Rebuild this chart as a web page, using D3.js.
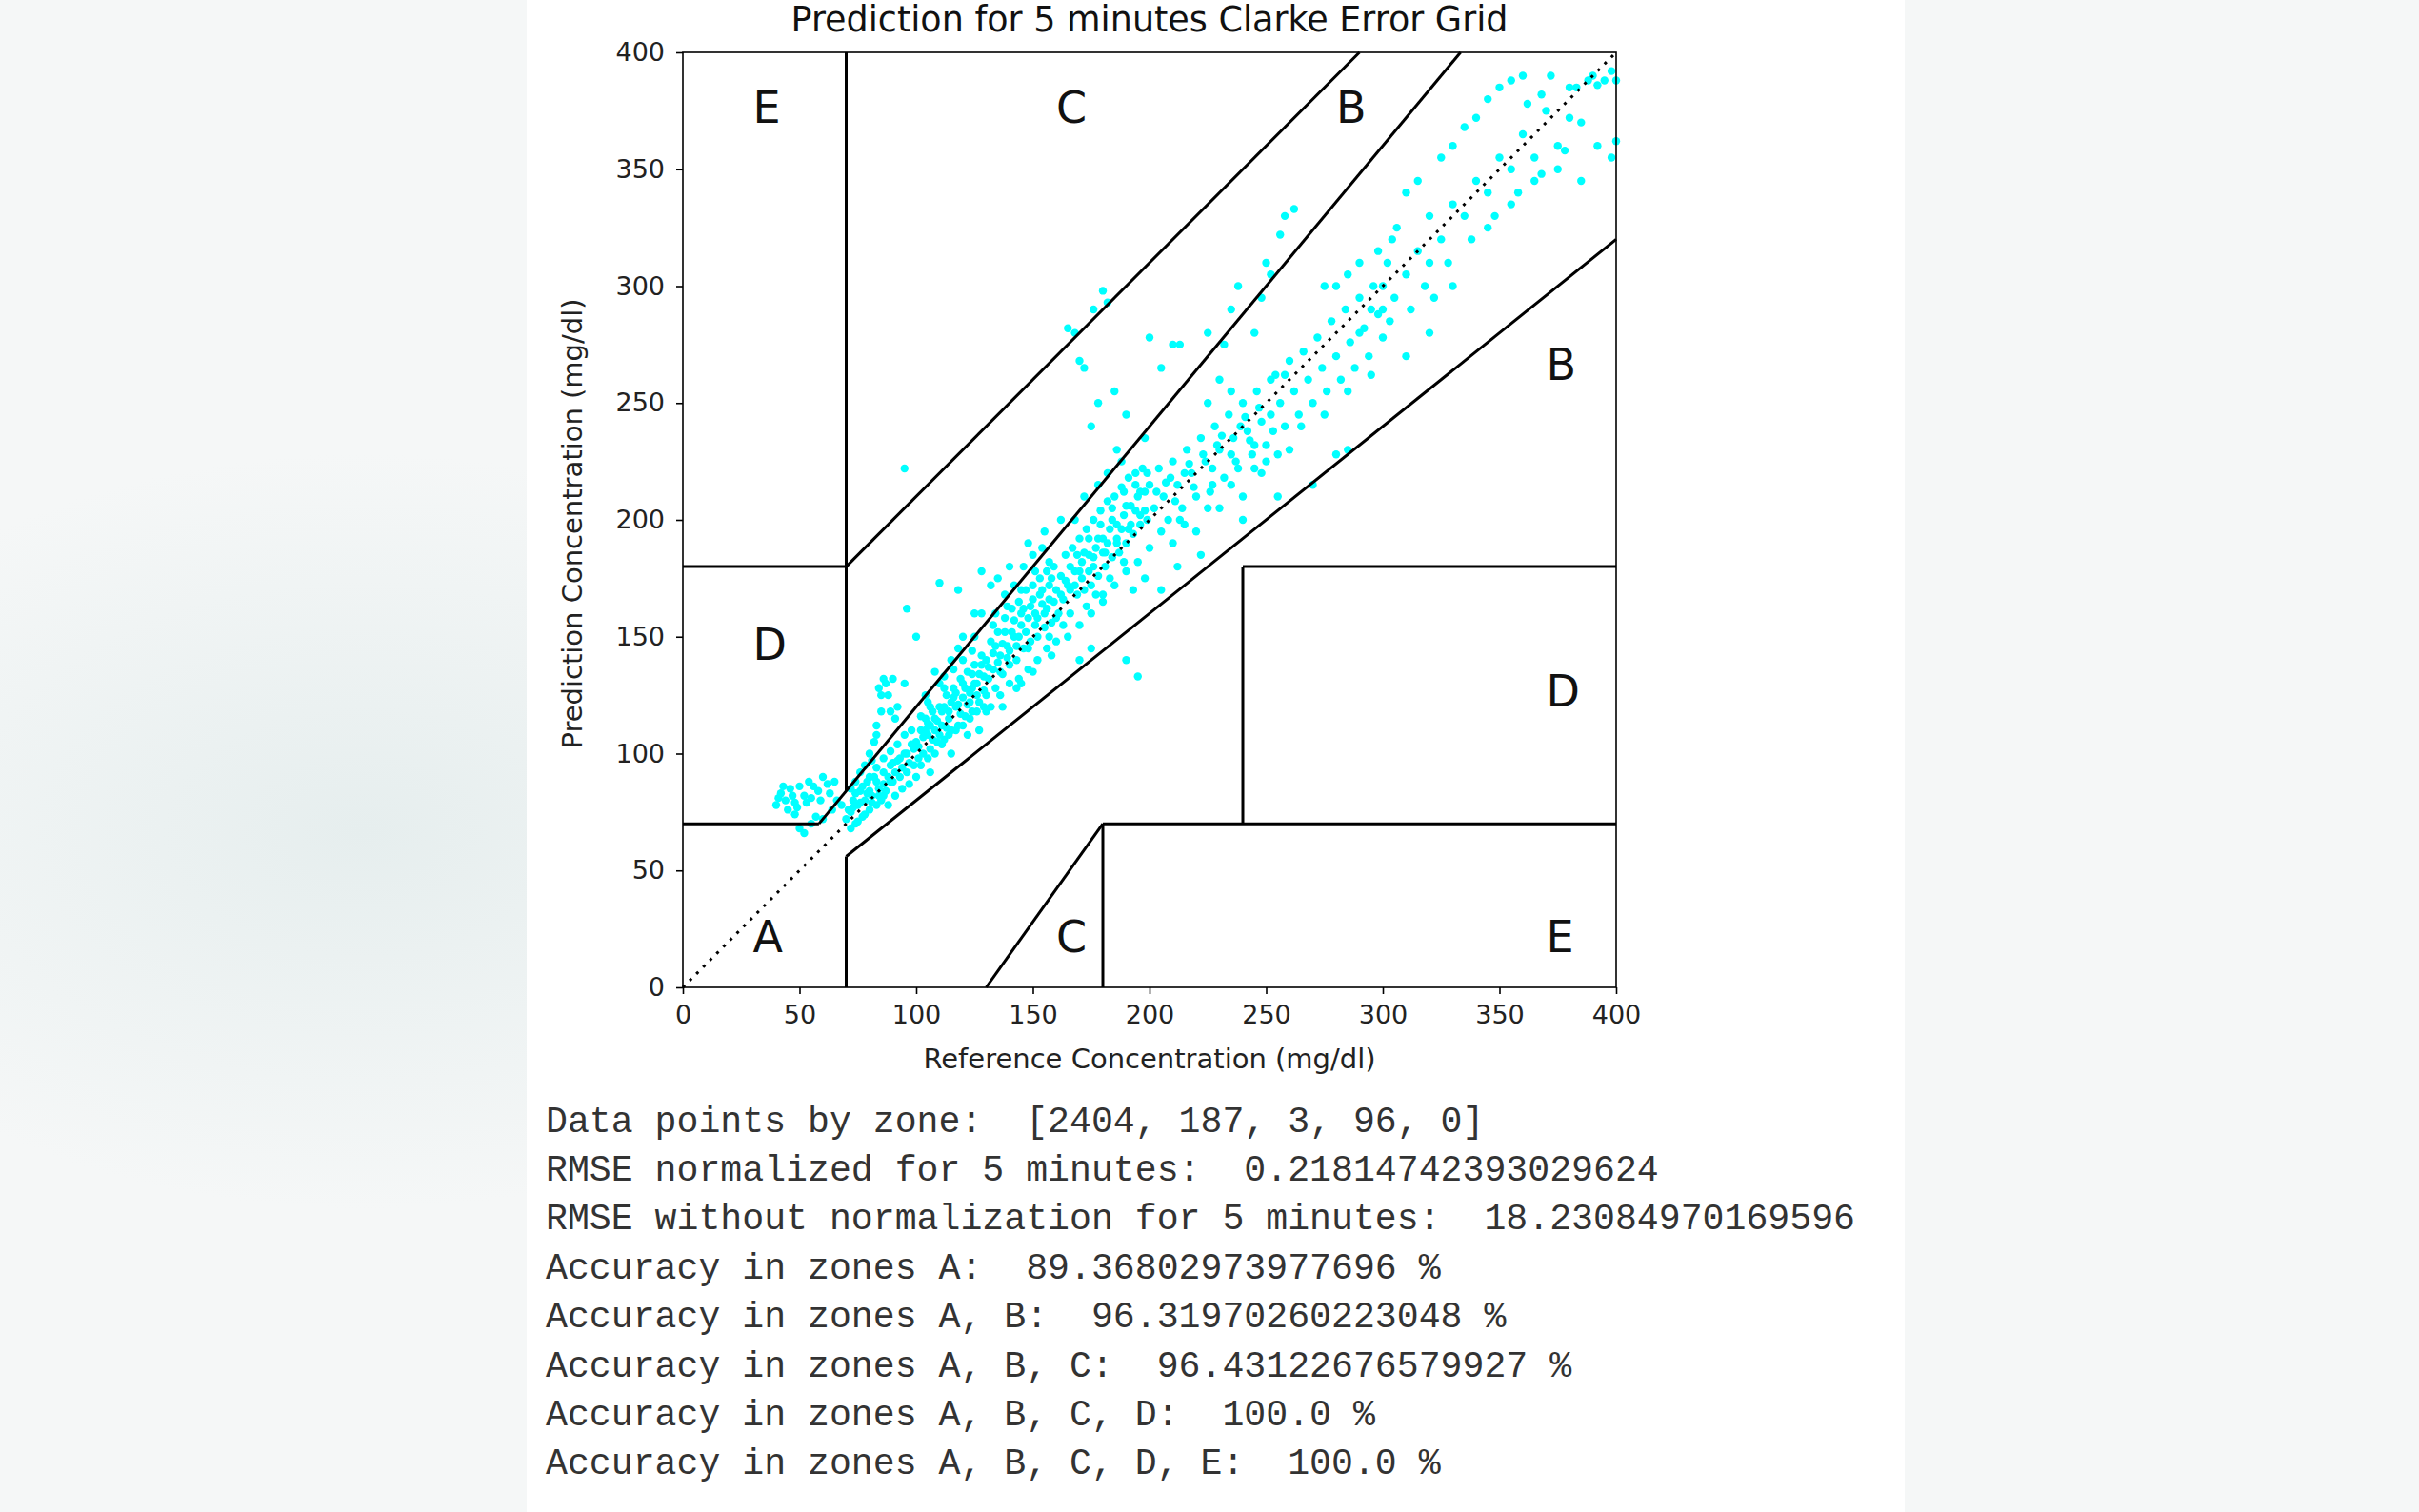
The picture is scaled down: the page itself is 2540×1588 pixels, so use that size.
<!DOCTYPE html>
<html><head><meta charset="utf-8">
<script src="https://cdn.jsdelivr.net/npm/d3@7"></script>
<style>body{margin:0;background:#f3f6f6;}svg{display:block}</style></head>
<body><svg id="c" width="2540" height="1588"></svg>
<script>
const title = "Prediction for 5 minutes Clarke Error Grid";
const xLabel = "Reference Concentration (mg/dl)";
const yLabel = "Prediction Concentration (mg/dl)";
const ticks = [0,50,100,150,200,250,300,350,400];
const zoneLines = [
 [[0,175/3],[70,70]],[[175/3,400/1.2],[70,400]],[[70,70],[84,400]],[[0,70],[180,180]],
 [[70,290],[180,400]],[[70,70],[0,56]],[[70,400],[56,320]],[[180,180],[0,70]],
 [[180,400],[70,70]],[[240,240],[70,180]],[[240,400],[180,180]],[[130,180],[0,70]]];
const zoneLabels = [["A",30,15],["B",370,260],["B",280,370],["C",160,370],["C",160,15],["D",30,140],["D",370,120],["E",30,370],["E",370,15]];
const outputLines = [
 "Data points by zone:  [2404, 187, 3, 96, 0]",
 "RMSE normalized for 5 minutes:  0.21814742393029624",
 "RMSE without normalization for 5 minutes:  18.23084970169596",
 "Accuracy in zones A:  89.36802973977696 %",
 "Accuracy in zones A, B:  96.31970260223048 %",
 "Accuracy in zones A, B, C:  96.43122676579927 %",
 "Accuracy in zones A, B, C, D:  100.0 %",
 "Accuracy in zones A, B, C, D, E:  100.0 %"];
const points = [
[40,78],[42,83],[44,80],[46,85],[48,79],[50,86],[52,82],[54,88],[45,76],[55,81],[58,84],[60,90],[62,87],[48,74],[50,68],[52,66],[55,70],[57,73],[60,72],[64,76],[66,80],[68,78],[41,81],[43,86],[47,82],[49,77],[53,79],[56,86],[59,80],[63,83],[65,88],
[70,72],[72,75],[73,80],[74,70],[75,78],[76,84],[77,73],[78,80],[79,88],[80,76],[81,82],[82,90],[83,78],[84,85],[85,80],[86,92],[87,84],[88,78],[89,95],[90,88],[91,82],[92,97],[93,90],[94,85],[95,100],[96,92],[97,87],[98,104],[99,95],[100,90],[72,68],[75,71],[78,74],[80,84],[83,88],[86,82],[88,90],[90,96],[93,98],[96,100],[99,102],[84,128],[86,132],[88,125],[90,132],[92,120],[85,118],[83,112],[95,130],[80,100],[82,105],[78,95],[76,92],[74,88],[72,85],
[71,76],[73,77],[76,79],[79,83],[81,79],[84,82],[86,87],[89,88],[91,92],[94,94],[97,96],[74,83],[77,86],[80,90],[83,94],[86,98],[89,101],[92,104],[95,108],[98,110],[85,125],[87,130],[89,118],[91,115],[83,108],[81,97],
[100,105],[101,98],[102,110],[103,100],[104,115],[105,108],[106,102],[107,118],[108,110],[109,105],[110,120],[111,112],[112,106],[113,125],[114,115],[115,110],[116,128],[117,120],[118,112],[119,132],[120,124],[121,116],[122,135],[123,126],[124,118],[125,138],[126,130],[127,122],[128,142],[129,133],[130,125],[102,95],[105,98],[108,100],[111,104],[114,108],[117,110],[120,112],[123,115],[126,118],[129,120],[110,130],[115,140],[120,150],[125,150],[118,145],[128,160],[105,122],[112,128],[96,162],[100,150],[108,135],[115,100],[122,108],[127,110],[130,118],[104,125],[106,92],
[101,103],[103,107],[105,113],[107,106],[109,114],[111,118],[113,111],[115,122],[117,126],[119,117],[121,128],[123,122],[125,130],[127,134],[129,127],[104,110],[108,115],[112,120],[116,124],[120,130],[124,134],[128,138],[106,112],[114,118],[122,121],[126,125],[110,108],[118,121],[124,128],[102,116],[106,120],[112,133],[116,136],[120,140],[124,144],
[130,140],[131,132],[132,148],[133,136],[134,128],[135,152],[136,142],[137,134],[138,158],[139,146],[140,138],[141,162],[142,150],[143,140],[144,165],[145,155],[146,145],[147,170],[148,158],[149,148],[150,172],[151,160],[152,150],[153,175],[154,164],[155,154],[156,178],[157,166],[158,156],[159,180],[160,170],[132,120],[136,125],[140,130],[144,132],[148,136],[152,140],[156,145],[160,148],[134,160],[138,168],[142,172],[146,180],[150,185],[154,188],[145,130],[150,135],[158,142],[135,175],[140,180],[128,178],[132,172],[155,195],[148,190],[162,200],[137,120],[143,128],[157,150],
[131,137],[133,143],[135,139],[137,147],[139,141],[141,152],[143,146],[145,160],[147,152],[149,163],[151,155],[153,168],[155,160],[157,172],[159,165],[134,146],[138,152],[142,157],[146,162],[150,166],[154,170],[158,175],[136,135],[140,144],[144,150],[148,145],[152,158],[156,162],[160,158],[133,155],[139,163],[145,170],[151,178],[157,182],
[161,160],[162,176],[163,166],[164,185],[165,172],[166,160],[167,188],[168,178],[169,168],[170,192],[171,182],[172,170],[173,196],[174,185],[175,172],[176,200],[177,188],[178,176],[179,204],[180,192],[181,180],[182,208],[183,196],[184,184],[185,210],[186,198],[187,186],[188,214],[189,202],[190,190],[191,218],[192,206],[193,194],[194,220],[195,210],[196,198],[197,222],[198,212],[199,200],[200,215],[165,150],[170,155],[175,160],[180,168],[185,172],[190,178],[195,182],[200,188],[168,200],[178,215],[188,225],[172,210],[182,220],[163,155],[193,170],[198,175],[170,140],[175,145],[190,140],[195,133],[180,165],[186,230],
[162,168],[164,174],[166,180],[168,172],[170,178],[172,186],[174,178],[176,184],[178,192],[180,186],[182,190],[184,200],[186,192],[188,196],[190,206],[192,198],[194,204],[196,212],[198,204],[166,170],[171,175],[176,180],[181,186],[186,190],[191,196],[196,202],[169,185],[174,192],[179,198],[184,205],[189,212],[194,215],[199,220],[177,168],[183,175],[189,182],[173,163],
[95,222],[165,282],[168,280],[170,268],[172,265],[180,298],[182,293],[176,290],[175,240],[178,250],[190,245],[185,255],[200,278],[210,275],[205,265],[198,235],[225,280],[235,290],[232,275],[245,280],[238,300],[250,310],[252,305],[258,330],[262,333],[256,322],[248,295],[213,275],[110,173],[118,170],[125,160],
[202,205],[204,222],[206,210],[208,200],[210,225],[212,215],[214,205],[216,230],[218,220],[220,210],[222,235],[224,225],[226,212],[228,240],[230,230],[232,218],[234,245],[236,235],[238,222],[240,250],[242,238],[244,228],[246,255],[248,242],[250,232],[205,195],[215,198],[225,205],[235,215],[245,222],[210,190],[220,195],[230,205],[240,210],[250,225],[212,180],[222,185],[205,170],[240,200],[248,220],[255,228],[260,230],[252,260],[258,262],[230,260],[235,255],[225,250],
[203,212],[207,216],[211,208],[215,220],[219,214],[223,228],[227,222],[231,236],[235,228],[239,240],[243,234],[247,248],[209,218],[217,224],[229,232],[241,244],[213,200],[227,215],[237,225],[245,232],[253,238],
[252,245],[254,262],[256,250],[258,240],[260,268],[262,255],[264,245],[266,272],[268,260],[270,250],[272,278],[274,265],[276,255],[278,285],[280,270],[282,260],[284,290],[286,276],[288,265],[290,295],[292,282],[294,270],[296,300],[298,288],[300,278],[265,240],[275,245],[285,255],[295,262],[270,215],[280,228],[255,210],[285,230],[300,300],[302,310],[305,295],[304,320],[298,315],[306,325],[290,310],[280,300],[275,300],[285,305],[300,290],[303,285],
[310,305],[315,315],[320,330],[318,300],[325,320],[330,335],[328,310],[335,330],[340,345],[338,320],[345,340],[350,355],[348,330],[355,350],[360,365],[358,340],[365,355],[370,375],[368,348],[375,360],[380,385],[378,358],[385,370],[390,390],[395,388],[400,388],[392,386],[388,388],[383,385],[398,392],[330,360],[335,368],[340,372],[345,380],[350,385],[355,388],[360,390],[325,355],[315,345],[362,378],[368,382],[372,390],[310,340],[320,310],[345,325],[355,335],[365,345],[375,350],[385,345],[398,355],[400,362],[392,360],[380,372],[310,270],[320,280],[312,290],[322,295],[330,300],[290,280],[295,290]];

const svg = d3.select("#c");
const defs = svg.append("defs");
const g0 = defs.append("radialGradient").attr("id","bg").attr("cx","0.15").attr("cy","0.55").attr("r","0.25");
g0.append("stop").attr("offset","0").attr("stop-color","#e6eeee");
g0.append("stop").attr("offset","1").attr("stop-color","#f5f7f7");
svg.append("rect").attr("width",2540).attr("height",1588).attr("fill","url(#bg)");
svg.append("rect").attr("x",553).attr("width",1447).attr("height",1588).attr("fill","#fff");

const x = d3.scaleLinear().domain([0,400]).range([717,1697]);
const y = d3.scaleLinear().domain([0,400]).range([1037,55]);
const font = "'DejaVu Sans', sans-serif";

svg.append("text").attr("x",(717+1697)/2).attr("y",33).attr("text-anchor","middle")
 .attr("font-family",font).attr("font-size",36.5).attr("fill","#111").text(title);

svg.append("g").selectAll("circle").data(points).join("circle")
 .attr("cx",d=>x(d[0])).attr("cy",d=>y(d[1])).attr("r",4.2).attr("fill","#00ffff");

svg.append("line").attr("x1",x(0)).attr("y1",y(0)).attr("x2",x(400)).attr("y2",y(400))
 .attr("stroke","#000").attr("stroke-width",3).attr("stroke-dasharray","3,7");
svg.append("g").selectAll("line").data(zoneLines).join("line")
 .attr("x1",d=>x(d[0][0])).attr("x2",d=>x(d[0][1])).attr("y1",d=>y(d[1][0])).attr("y2",d=>y(d[1][1]))
 .attr("stroke","#000").attr("stroke-width",3);

svg.append("g").selectAll("text").data(zoneLabels).join("text")
 .attr("x",d=>x(d[1])).attr("y",d=>y(d[2])).attr("text-anchor","start")
 .attr("font-family",font).attr("font-size",46).attr("fill","#111").text(d=>d[0]);

const xa = svg.append("g").attr("transform","translate(0,1037)").call(d3.axisBottom(x).tickValues(ticks).tickSize(7).tickPadding(12));
const ya = svg.append("g").attr("transform","translate(717,0)").call(d3.axisLeft(y).tickValues(ticks).tickSize(7).tickPadding(12));
[xa,ya].forEach(a=>{a.select(".domain").remove();a.selectAll("text").attr("font-family",font).attr("font-size",27).attr("fill","#222");a.selectAll("line").attr("stroke-width",1.6);});
svg.append("rect").attr("x",717).attr("y",55).attr("width",980).attr("height",982).attr("fill","none").attr("stroke","#000").attr("stroke-width",1.6);

svg.append("text").attr("x",(717+1697)/2).attr("y",1122).attr("text-anchor","middle")
 .attr("font-family",font).attr("font-size",29).attr("fill","#222").text(xLabel);
svg.append("text").attr("transform","translate(611,550) rotate(-90)").attr("text-anchor","middle")
 .attr("font-family",font).attr("font-size",29).attr("fill","#222").text(yLabel);

svg.append("g").selectAll("text").data(outputLines).join("text")
 .attr("x",573).attr("y",(d,i)=>1178+i*51.4).attr("dominant-baseline","central")
 .attr("xml:space","preserve").style("white-space","pre")
 .attr("font-family","'Liberation Mono', 'DejaVu Sans Mono', monospace").attr("font-size",38.2).attr("fill","#333")
 .text(d=>d);
</script></body></html>
